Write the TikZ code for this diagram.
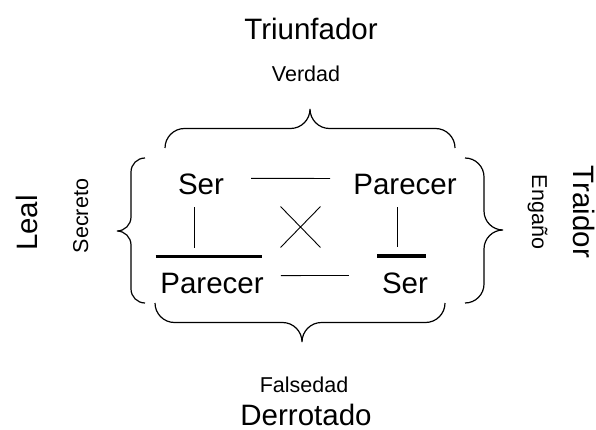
\documentclass[tikz,border=0pt]{standalone}
\usepackage{fontspec}
\setmainfont{Liberation Sans}
\usetikzlibrary{shapes.misc}

\tikzset{
  grande/.style={inner sep=0pt,anchor=base,font=\fontsize{29.5}{34}\selectfont},
  chica/.style={inner sep=0pt,anchor=base,font=\fontsize{21.5}{25}\selectfont},
  llave/.style={line width=1.2pt},
  fino/.style={line width=0.9pt},
  barra/.style={line width=3.6pt}
}

\begin{document}
\begin{tikzpicture}[x=1pt,y=-1pt]
\path[use as bounding box] (0,0) rectangle (596,430);
% titulos
\node[grande] (triunfador) at (311,40) {Triunfador};
\node[chica] (verdad) at (306,82) {Verdad};
\node[chica] (falsedad) at (304,392) {Falsedad};
\node[grande] (derrotado) at (306,425) {Derrotado};
\node[grande,rotate=90] (leal) at (37,223) {Leal};
\node[chica,rotate=90] (secreto) at (88,216) {Secreto};
\node[grande,rotate=-90] (traidor) at (573,212) {Traidor};
\node[chica,rotate=-90] (engano) at (532,212) {Engaño};
% cuadro
\node[grande] (ser1) at (201,195) {Ser};
\node[grande] (parecer1) at (405,195) {Parecer};
\node[grande] (parecer2) at (212,293) {Parecer};
\node[grande] (ser2) at (405,293) {Ser};
\node[draw,cross out,fino,minimum width=39pt,minimum height=40pt] (cruz) at (300.5,227) {};
\draw[fino,shorten <=27pt,shorten >=23pt] ([yshift=6.5pt]ser1.east) -- ([yshift=6.5pt]parecer1.west);
\draw[fino,shorten <=17pt,shorten >=33pt] ([yshift=7.4pt]parecer2.east) -- ([yshift=7.4pt]ser2.west);
\draw[fino,shorten <=12pt,shorten >=25pt] ([xshift=-7pt]ser1.south) -- ([xshift=-7pt]ser1.south |- parecer2.north);
\draw[fino,shorten <=12pt,shorten >=25pt] ([xshift=-8pt]parecer1.south) -- ([xshift=-8pt]parecer1.south |- ser2.north);
\draw[barra] ([xshift=-4.5pt,yshift=16pt]parecer2.north west) -- ([xshift=-2pt,yshift=16pt]parecer2.north east);
\draw[barra] ([xshift=-4.5pt,yshift=16pt]ser2.north west) -- ([xshift=-2pt,yshift=16pt]ser2.north east);
% llaves
\draw[llave,rounded corners=19.5pt] (165,148) -- (165,128.5) -- (310,128.5) -- (310,109)
  (310,109) -- (310,128.5) -- (455,128.5) -- (455,148);
\draw[llave,rounded corners=19.5pt] (155,303) -- (155,322.5) -- (302,322.5) -- (302,342)
  (302,342) -- (302,322.5) -- (445,322.5) -- (445,303);
\draw[llave,rounded corners=14pt] (145,158) -- (131,158) -- (131,231) -- (117,231)
  (117,231) -- (131,231) -- (131,303) -- (145,303);
\draw[llave,rounded corners=19pt] (465,158) -- (484,158) -- (484,230) -- (503,230)
  (503,230) -- (484,230) -- (484,303) -- (465,303);
\end{tikzpicture}
\end{document}
